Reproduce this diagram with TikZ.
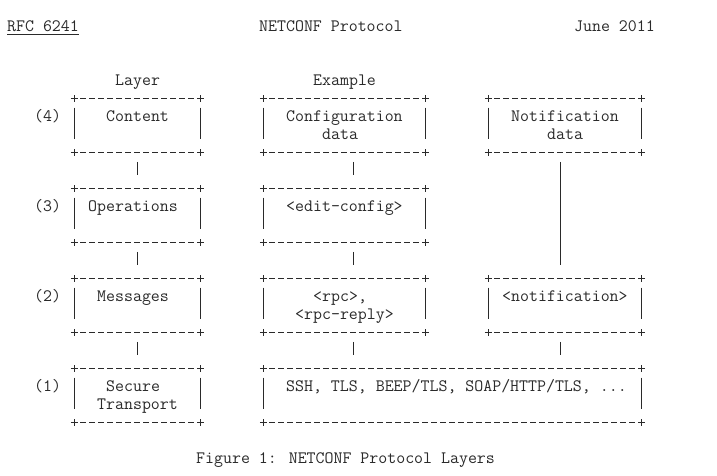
\documentclass[tikz,border=0pt]{standalone}
\usepackage{fontspec}
\definecolor{inkc}{HTML}{2A2A2A}
\tikzset{
  x=1bp, y=1bp,
  ink/.style={draw=inkc, line width=0.9bp},
  txt/.style={inner sep=0pt, anchor=base west, text=inkc, font=\fontsize{17.4bp}{18bp}\ttfamily},
  boxnode/.style={draw=none, inner sep=0pt, rectangle},
  hyph/.style={ink, dash pattern=on 6bp off 3bp},
  pipe/.style={ink, shorten <=9.5bp, shorten >=13bp},
}
% text at column #2, row #3
\newcommand\tx[4]{\node[txt] (#1) at ({7+9*(#2)},{390.5-18*(#3)}) {#4};}
% ascii box: name, first col, last col, top row, bottom row
\newcommand\abox[5]{%
  \node[boxnode, minimum width={9bp*((#3)-(#2))}, minimum height={18bp*((#5)-(#4))}]
    (#1) at ({11.5+4.5*((#2)+(#3))},{395.7-9*((#4)+(#5))}) {};
  \draw[hyph] ([xshift=6bp]#1.north west) -- ([xshift=-6bp]#1.north east);
  \draw[hyph] ([xshift=6bp]#1.south west) -- ([xshift=-6bp]#1.south east);
  \foreach \cor in {north west, north east, south west, south east}{
    \draw[ink] ([xshift=-3.5bp]#1.\cor) -- ([xshift=3.5bp]#1.\cor)
               ([yshift=-3.5bp]#1.\cor) -- ([yshift=3.5bp]#1.\cor);}
  \draw[ink] ([yshift=-9.5bp]#1.north west) -- ([yshift=13bp]#1.south west);
  \draw[ink] ([yshift=-9.5bp]#1.north east) -- ([yshift=13bp]#1.south east);
}
\begin{document}
\begin{tikzpicture}
\fill[white] (0,0) rectangle (717,476);
\useasboundingbox (0,0) rectangle (717,476);

% header
\tx{hdrA}{0}{-3}{RFC 6241}
\tx{hdrB}{28}{-3}{NETCONF Protocol}
\tx{hdrC}{63}{-3}{June 2011}
\draw[ink] ([yshift=-2.8bp]hdrA.base west) -- ([yshift=-2.8bp]hdrA.base east);

% column titles
\tx{layer}{12}{0}{Layer}
\tx{example}{34}{0}{Example}

% layer numbers
\tx{n4}{3}{2}{(4)}
\tx{n3}{3}{7}{(3)}
\tx{n2}{3}{12}{(2)}
\tx{n1}{3}{17}{(1)}

% boxes
\abox{A4}{7}{21}{1}{4}
\abox{B4}{28}{46}{1}{4}
\abox{C4}{53}{70}{1}{4}
\abox{A3}{7}{21}{6}{9}
\abox{B3}{28}{46}{6}{9}
\abox{A2}{7}{21}{11}{14}
\abox{B2}{28}{46}{11}{14}
\abox{C2}{53}{70}{11}{14}
\abox{A1}{7}{21}{16}{19}
\abox{B1}{28}{70}{16}{19}

% box texts
\tx{tA4}{11}{2}{Content}
\tx{tB4a}{31}{2}{Configuration}
\tx{tB4b}{35}{3}{data}
\tx{tC4a}{56}{2}{Notification}
\tx{tC4b}{60}{3}{data}
\tx{tA3}{9}{7}{Operations}
\tx{tB3}{31}{7}{<edit-config>}
\tx{tA2}{10}{12}{Messages}
\tx{tB2a}{34}{12}{<rpc>,}
\tx{tB2b}{32}{13}{<rpc-reply>}
\tx{tC2}{55}{12}{<notification>}
\tx{tA1a}{11}{17}{Secure}
\tx{tA1b}{10}{18}{Transport}
\tx{tB1}{31}{17}{SSH, TLS, BEEP/TLS, SOAP/HTTP/TLS, ...}

% connectors
\draw[pipe] (A4.south) -- (A3.north);
\draw[pipe] (A3.south) -- (A2.north);
\draw[pipe] (A2.south) -- (A1.north);
\draw[pipe] ([xshift=9bp]B4.south) -- ([xshift=9bp]B3.north);
\draw[pipe] ([xshift=9bp]B3.south) -- ([xshift=9bp]B2.north);
\path ([xshift=9bp]B2.south) coordinate (b2p);
\draw[pipe] (b2p) -- (b2p |- B1.north);
\draw[pipe] ([xshift=-4.5bp]C4.south) -- ([xshift=-4.5bp]C2.north);
\path ([xshift=-4.5bp]C2.south) coordinate (c2p);
\draw[pipe] (c2p) -- (c2p |- B1.north);

% caption
\tx{cap}{21}{21}{Figure 1: NETCONF Protocol Layers}
\end{tikzpicture}
\end{document}
